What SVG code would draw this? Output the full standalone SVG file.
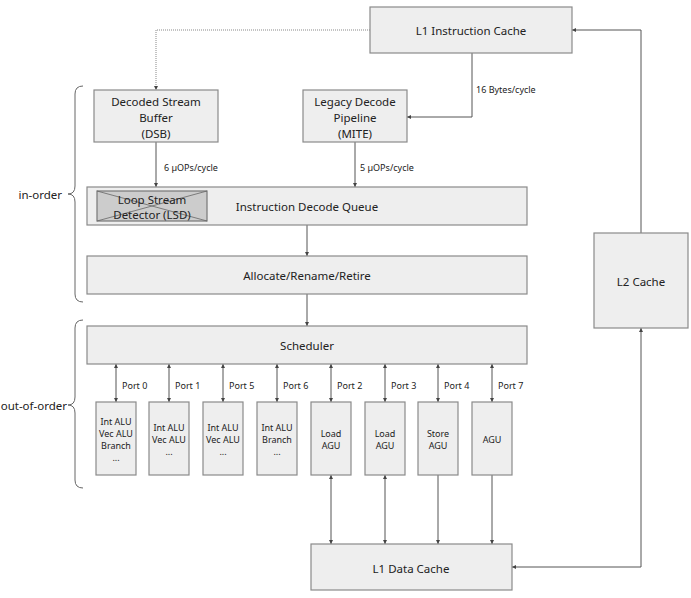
<svg xmlns="http://www.w3.org/2000/svg" width="691" height="598" viewBox="0 0 691 598">
<defs>
<marker id="ah" viewBox="0 0 6 6" refX="6" refY="3" markerWidth="4" markerHeight="4" orient="auto-start-reverse" markerUnits="userSpaceOnUse">
<path d="M0,0 L6,3 L0,6 Z" fill="#444"/>
</marker>
<style>
.box{fill:#eeeeee;stroke:#8a8a8a;stroke-width:1.2}
.lsd{fill:#cccccc;stroke:#777;stroke-width:1.2}
.t{font-family:"Noto Sans","Open Sans",sans-serif;font-size:11.5px;fill:#222;text-anchor:middle;dominant-baseline:central}
.s{font-family:"Noto Sans","Open Sans",sans-serif;font-size:9px;fill:#222;dominant-baseline:central}
.u{font-family:"Noto Sans","Open Sans",sans-serif;font-size:9px;fill:#222;text-anchor:middle;dominant-baseline:central}
.c{fill:none;stroke:#555;stroke-width:1}
.d{fill:none;stroke:#888;stroke-width:1;stroke-dasharray:1,1}
.br{fill:none;stroke:#666;stroke-width:1}
.bl{font-family:"Noto Sans","Open Sans",sans-serif;font-size:11.5px;fill:#222;text-anchor:end;dominant-baseline:central}
</style>
</defs>
<rect width="691" height="598" fill="#ffffff"/>

<g id="braces">
<path class="br" d="M83,86 Q75,86 75,94 L75,186 Q75,194 68,194 Q75,194 75,202 L75,294 Q75,302 83,302"/>
<text class="bl" x="62" y="194">in-order</text>
<path class="br" d="M83,320 Q75,320 75,328 L75,397 Q75,405 68,405 Q75,405 75,413 L75,480 Q75,488 83,488"/>
<text class="bl" x="67" y="405">out-of-order</text>
</g>

<g id="connectors">
<path class="d" d="M370,30 L156,30 L156,90" marker-end="url(#ah)"/>
<path class="c" d="M472,53 L472,117 L407,117" marker-end="url(#ah)"/>
<text class="s" x="476" y="89">16 Bytes/cycle</text>
<path class="c" d="M156,142 L156,187" marker-end="url(#ah)"/>
<text class="s" x="164" y="167">6 µOPs/cycle</text>
<path class="c" d="M355,142 L355,187" marker-end="url(#ah)"/>
<text class="s" x="360" y="167">5 µOPs/cycle</text>
<path class="c" d="M307,225 L307,256" marker-end="url(#ah)"/>
<path class="c" d="M307,294 L307,326" marker-end="url(#ah)"/>
<path class="c" d="M116,364 L116,402" marker-start="url(#ah)" marker-end="url(#ah)"/>
<path class="c" d="M169,364 L169,402" marker-start="url(#ah)" marker-end="url(#ah)"/>
<path class="c" d="M223,364 L223,402" marker-start="url(#ah)" marker-end="url(#ah)"/>
<path class="c" d="M277,364 L277,402" marker-start="url(#ah)" marker-end="url(#ah)"/>
<path class="c" d="M331,364 L331,402" marker-start="url(#ah)" marker-end="url(#ah)"/>
<path class="c" d="M385,364 L385,402" marker-start="url(#ah)" marker-end="url(#ah)"/>
<path class="c" d="M438,364 L438,402" marker-start="url(#ah)" marker-end="url(#ah)"/>
<path class="c" d="M492,364 L492,402" marker-start="url(#ah)" marker-end="url(#ah)"/>
<text class="s" x="122" y="385">Port 0</text>
<text class="s" x="175" y="385">Port 1</text>
<text class="s" x="229" y="385">Port 5</text>
<text class="s" x="283" y="385">Port 6</text>
<text class="s" x="337" y="385">Port 2</text>
<text class="s" x="391" y="385">Port 3</text>
<text class="s" x="444" y="385">Port 4</text>
<text class="s" x="498" y="385">Port 7</text>
<path class="c" d="M331,475 L331,544" marker-start="url(#ah)" marker-end="url(#ah)"/>
<path class="c" d="M385,475 L385,544" marker-start="url(#ah)" marker-end="url(#ah)"/>
<path class="c" d="M438,475 L438,544" marker-end="url(#ah)"/>
<path class="c" d="M492,475 L492,544" marker-end="url(#ah)"/>
<path class="c" d="M641,233 L641,30 L572,30" marker-end="url(#ah)"/>
<path class="c" d="M641,328 L641,567 L512,567" marker-start="url(#ah)" marker-end="url(#ah)"/>
</g>

<g id="l1i"><rect class="box" x="370" y="7" width="202" height="46"/><text class="t" x="471" y="30">L1 Instruction Cache</text></g>
<g id="dsb"><rect class="box" x="94" y="90" width="124" height="52"/>
<text class="t" x="156" y="101">Decoded Stream</text><text class="t" x="156" y="117">Buffer</text><text class="t" x="156" y="133">(DSB)</text></g>
<g id="mite"><rect class="box" x="303" y="90" width="104" height="52"/>
<text class="t" x="355" y="101">Legacy Decode</text><text class="t" x="355" y="117">Pipeline</text><text class="t" x="355" y="133">(MITE)</text></g>
<g id="idq"><rect class="box" x="87" y="187" width="440" height="38"/><text class="t" x="307" y="206">Instruction Decode Queue</text></g>
<g id="lsd"><rect class="lsd" x="97" y="191" width="110" height="30"/>
<path d="M97,191 L207,221 M97,221 L207,191" stroke="#666" stroke-width="0.8"/>
<text class="t" x="152" y="199">Loop Stream</text><text class="t" x="152" y="214">Detector (LSD)</text></g>
<g id="alloc"><rect class="box" x="87" y="256" width="440" height="38"/><text class="t" x="307" y="275">Allocate/Rename/Retire</text></g>
<g id="sched"><rect class="box" x="87" y="326" width="440" height="38"/><text class="t" x="307" y="345">Scheduler</text></g>

<g id="p0"><rect class="box" x="96" y="402" width="40" height="73"/>
<text class="u" x="116" y="421">Int ALU</text><text class="u" x="116" y="433">Vec ALU</text><text class="u" x="116" y="445">Branch</text><text class="u" x="116" y="457">...</text></g>
<g id="p1"><rect class="box" x="149" y="402" width="40" height="73"/>
<text class="u" x="169" y="427">Int ALU</text><text class="u" x="169" y="439">Vec ALU</text><text class="u" x="169" y="451">...</text></g>
<g id="p5"><rect class="box" x="203" y="402" width="40" height="73"/>
<text class="u" x="223" y="427">Int ALU</text><text class="u" x="223" y="439">Vec ALU</text><text class="u" x="223" y="451">...</text></g>
<g id="p6"><rect class="box" x="257" y="402" width="40" height="73"/>
<text class="u" x="277" y="427">Int ALU</text><text class="u" x="277" y="439">Branch</text><text class="u" x="277" y="451">...</text></g>
<g id="p2"><rect class="box" x="311" y="402" width="40" height="73"/>
<text class="u" x="331" y="433">Load</text><text class="u" x="331" y="445">AGU</text></g>
<g id="p3"><rect class="box" x="365" y="402" width="40" height="73"/>
<text class="u" x="385" y="433">Load</text><text class="u" x="385" y="445">AGU</text></g>
<g id="p4"><rect class="box" x="418" y="402" width="40" height="73"/>
<text class="u" x="438" y="433">Store</text><text class="u" x="438" y="445">AGU</text></g>
<g id="p7"><rect class="box" x="472" y="402" width="40" height="73"/>
<text class="u" x="492" y="439">AGU</text></g>

<g id="l1d"><rect class="box" x="311" y="544" width="201" height="46"/><text class="t" x="411" y="568">L1 Data Cache</text></g>
<g id="l2"><rect class="box" x="594" y="233" width="94" height="95"/><text class="t" x="641" y="281">L2 Cache</text></g>
</svg>
